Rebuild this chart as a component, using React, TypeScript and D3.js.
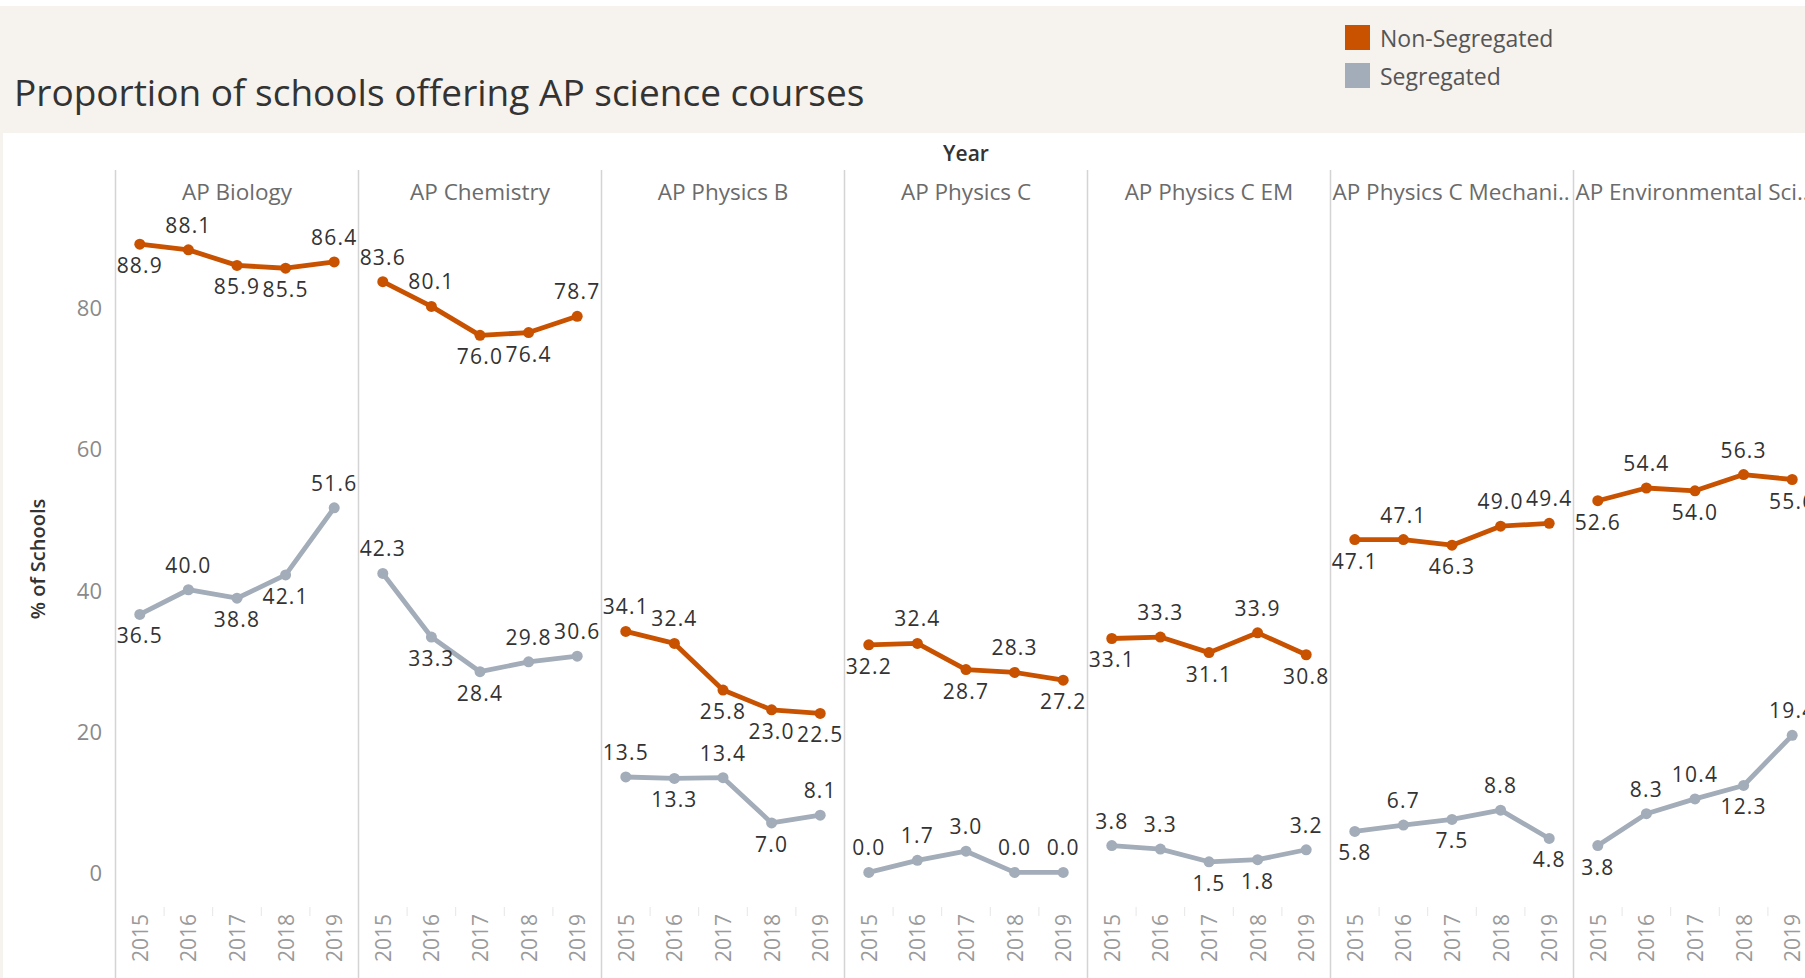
import React, { useEffect, useRef } from 'react';
import * as d3 from 'd3';

// data
const courses = [
  'AP Biology',
  'AP Chemistry',
  'AP Physics B',
  'AP Physics C',
  'AP Physics C EM',
  'AP Physics C Mechanics',
  'AP Environmental Science',
];
const years = [2015, 2016, 2017, 2018, 2019];
const yTicks = [0, 20, 40, 60, 80];

const nonSegregated = [
  [88.9, 88.1, 85.9, 85.5, 86.4],
  [83.6, 80.1, 76.0, 76.4, 78.7],
  [34.1, 32.4, 25.8, 23.0, 22.5],
  [32.2, 32.4, 28.7, 28.3, 27.2],
  [33.1, 33.3, 31.1, 33.9, 30.8],
  [47.1, 47.1, 46.3, 49.0, 49.4],
  [52.6, 54.4, 54.0, 56.3, 55.6],
];
const segregated = [
  [36.5, 40.0, 38.8, 42.1, 51.6],
  [42.3, 33.3, 28.4, 29.8, 30.6],
  [13.5, 13.3, 13.4, 7.0, 8.1],
  [0.0, 1.7, 3.0, 0.0, 0.0],
  [3.8, 3.3, 1.5, 1.8, 3.2],
  [5.8, 6.7, 7.5, 8.8, 4.8],
  [3.8, 8.3, 10.4, 12.3, 19.4],
];

// label side per point: a = above, b = below (as Tableau placed them)
const nonSegSides = ['babba', 'aabba', 'aabbb', 'babab', 'babab', 'babaa', 'babab'];
const segSides = ['babba', 'abbaa', 'ababa', 'aaaaa', 'aabba', 'babab', 'baaba'];

const ORANGE = '#c85200';
const GRAY = '#a3acb9';
const FONT = '"Open Sans", "Noto Sans", sans-serif';

const App: React.FC = () => {
  const svgRef = useRef<SVGSVGElement | null>(null);

  useEffect(() => {
    document.body.style.margin = '0';
    if (!svgRef.current) return;

    const width = 1805;
    const height = 978;
    const panelLeft = 115.5;
    const panelW = 243;
    const plotTop = 211;
    const plotBottom = 907;

    const svg = d3.select(svgRef.current);
    svg.selectAll('*').remove();
    svg.attr('width', width).attr('height', height).style('font-family', FONT);

    svg.append('rect').attr('width', width).attr('height', height).attr('fill', '#fff');
    // header band
    svg.append('rect').attr('x', 2).attr('y', 6).attr('width', width).attr('height', 127).attr('fill', '#f6f2ee');
    svg.append('rect').attr('x', 0).attr('y', 6).attr('width', 3).attr('height', height).attr('fill', '#f6f2ee');

    svg
      .append('text')
      .attr('x', 14)
      .attr('y', 106)
      .attr('font-size', 37)
      .attr('fill', '#333')
      .text('Proportion of schools offering AP science courses');

    // legend
    const legend = [
      { name: 'Non-Segregated', color: ORANGE },
      { name: 'Segregated', color: GRAY },
    ];
    legend.forEach((d, i) => {
      const gy = 25 + i * 38;
      svg.append('rect').attr('x', 1345).attr('y', gy).attr('width', 25).attr('height', 25).attr('fill', d.color);
      svg
        .append('text')
        .attr('x', 1380)
        .attr('y', gy + 12.5)
        .attr('dominant-baseline', 'central')
        .attr('font-size', 23)
        .attr('fill', '#555')
        .text(d.name);
    });

    svg
      .append('text')
      .attr('x', 966)
      .attr('y', 153)
      .attr('text-anchor', 'middle')
      .attr('dominant-baseline', 'central')
      .attr('font-size', 21)
      .attr('font-weight', 600)
      .attr('fill', '#333')
      .text('Year');

    const x = d3.scalePoint<number>().domain(years).range([0, panelW]).padding(0.5);
    const y = d3.scaleLinear().domain([-4.9, 93.6]).range([plotBottom, plotTop]);

    // y axis
    svg
      .selectAll('.ytick')
      .data(yTicks)
      .enter()
      .append('text')
      .attr('class', 'ytick')
      .attr('x', 102)
      .attr('y', (d) => y(d))
      .attr('text-anchor', 'end')
      .attr('dominant-baseline', 'central')
      .attr('font-size', 22)
      .attr('fill', '#8a8a8a')
      .text((d) => d);

    svg
      .append('text')
      .attr('transform', `translate(37, ${(plotTop + plotBottom) / 2}) rotate(-90)`)
      .attr('text-anchor', 'middle')
      .attr('dominant-baseline', 'central')
      .attr('font-size', 20)
      .attr('font-weight', 600)
      .attr('fill', '#333')
      .text('% of Schools');

    const line = d3
      .line<number>()
      .x((_, i) => x(years[i]) as number)
      .y((d) => y(d));

    courses.forEach((course, ci) => {
      const px = panelLeft + ci * panelW;
      const g = svg.append('g').attr('transform', `translate(${px},0)`);

      // divider
      g.append('line')
        .attr('x1', 0)
        .attr('x2', 0)
        .attr('y1', 170)
        .attr('y2', height)
        .attr('stroke', '#d4d4d4')
        .attr('stroke-width', 1.5);

      // header text, truncated like Tableau when too wide
      const head = g
        .append('text')
        .attr('x', panelW / 2)
        .attr('y', 191)
        .attr('text-anchor', 'middle')
        .attr('dominant-baseline', 'central')
        .attr('font-size', 22.5)
        .attr('fill', '#6b6b6b')
        .text(course);
      const node = head.node() as SVGTextElement;
      if (node.getComputedTextLength() > panelW - 4) {
        let s = course;
        while (s.length > 1) {
          s = s.slice(0, -1);
          node.textContent = s + '..';
          if (node.getComputedTextLength() <= panelW - 4) break;
        }
        head.attr('x', 2).attr('text-anchor', 'start');
      }

      // year axis
      years.forEach((yr, yi) => {
        g.append('text')
          .attr('transform', `translate(${x(yr)},914) rotate(-90)`)
          .attr('text-anchor', 'end')
          .attr('dominant-baseline', 'central')
          .attr('font-size', 21)
          .attr('fill', '#9a9a9a')
          .text(yr);
        if (yi > 0) {
          const bx = (x(yr) as number) - x.step() / 2;
          g.append('line')
            .attr('x1', bx)
            .attr('x2', bx)
            .attr('y1', plotBottom)
            .attr('y2', plotBottom + 9)
            .attr('stroke', '#e6e6e6')
            .attr('stroke-width', 1);
        }
      });

      const series = [
        { values: segregated[ci], sides: segSides[ci], color: GRAY },
        { values: nonSegregated[ci], sides: nonSegSides[ci], color: ORANGE },
      ];

      series.forEach((s) => {
        g.append('path')
          .attr('d', line(s.values) as string)
          .attr('fill', 'none')
          .attr('stroke', s.color)
          .attr('stroke-width', 4.8)
          .attr('stroke-linejoin', 'round');
        g.selectAll(null)
          .data(s.values)
          .enter()
          .append('circle')
          .attr('cx', (_, i) => x(years[i]) as number)
          .attr('cy', (d) => y(d))
          .attr('r', 5.5)
          .attr('fill', s.color);
      });

      series.forEach((s) => {
        s.values.forEach((v, i) => {
          const cx = x(years[i]) as number;
          const above = s.sides[i] === 'a';
          const t = g
            .append('text')
            .attr('x', cx)
            .attr('y', above ? y(v) - 17 : y(v) + 29)
            .attr('text-anchor', 'middle')
            .attr('font-size', 21)
            .attr('letter-spacing', 1.2)
            .attr('fill', '#333')
            .text(v.toFixed(1));
          const w = (t.node() as SVGTextElement).getComputedTextLength();
          let lx = cx;
          if (lx - w / 2 < 1) lx = 1 + w / 2;
          if (lx + w / 2 > panelW) lx = panelW - w / 2;
          t.attr('x', lx);
        });
      });
    });
  }, []);

  return <svg ref={svgRef} style={{ display: 'block' }}></svg>;
};

export default App;
